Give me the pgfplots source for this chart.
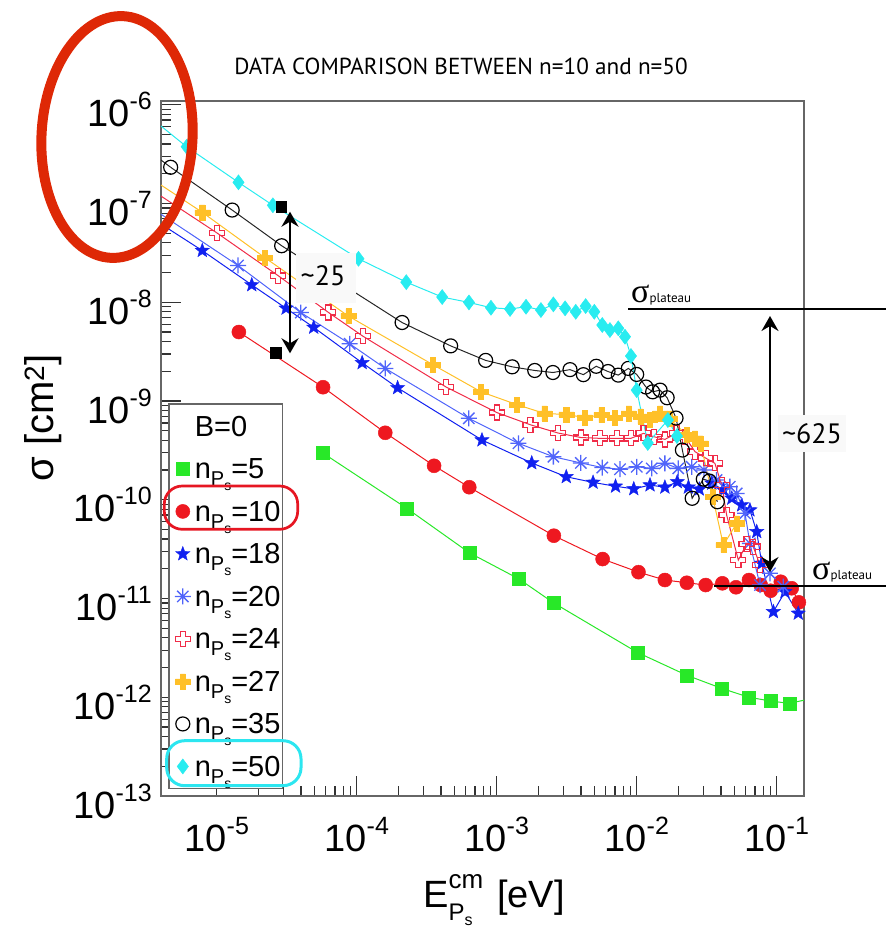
\documentclass[border=0pt]{standalone}
\usepackage{fontspec}
\setmainfont{Liberation Sans}
\newfontfamily\titlefont{PT Sans}
\newfontfamily\greekserif{Liberation Serif}
\usepackage{pgfplots}
\pgfplotsset{compat=1.18}
\usetikzlibrary{arrows.meta}

\definecolor{cgreen}{RGB}{40,232,40}
\definecolor{cred}{RGB}{238,24,32}
\definecolor{cblue}{RGB}{16,32,240}
\definecolor{casterisk}{RGB}{80,100,250}
\definecolor{cpink}{RGB}{240,44,72}
\definecolor{cyellow}{RGB}{255,192,40}
\definecolor{ccyan}{RGB}{40,236,240}
\definecolor{ellred}{RGB}{222,40,6}
\definecolor{boxred}{RGB}{230,22,34}
\definecolor{boxcyan}{RGB}{44,230,240}
\definecolor{labelbg}{RGB}{249,249,249}

% filled five-point star
\pgfdeclareplotmark{fstar}{%
  \pgfpathmoveto{\pgfpointpolar{90}{\pgfplotmarksize}}%
  \pgfpathlineto{\pgfpointpolar{126}{0.42\pgfplotmarksize}}%
  \pgfpathlineto{\pgfpointpolar{162}{\pgfplotmarksize}}%
  \pgfpathlineto{\pgfpointpolar{198}{0.42\pgfplotmarksize}}%
  \pgfpathlineto{\pgfpointpolar{234}{\pgfplotmarksize}}%
  \pgfpathlineto{\pgfpointpolar{270}{0.42\pgfplotmarksize}}%
  \pgfpathlineto{\pgfpointpolar{306}{\pgfplotmarksize}}%
  \pgfpathlineto{\pgfpointpolar{342}{0.42\pgfplotmarksize}}%
  \pgfpathlineto{\pgfpointpolar{18}{\pgfplotmarksize}}%
  \pgfpathlineto{\pgfpointpolar{54}{0.42\pgfplotmarksize}}%
  \pgfpathclose\pgfusepathqfillstroke}
% eight-arm asterisk
\pgfdeclareplotmark{ast8}{%
  \pgfpathmoveto{\pgfpoint{0pt}{\pgfplotmarksize}}\pgfpathlineto{\pgfpoint{0pt}{-\pgfplotmarksize}}%
  \pgfpathmoveto{\pgfpoint{\pgfplotmarksize}{0pt}}\pgfpathlineto{\pgfpoint{-\pgfplotmarksize}{0pt}}%
  \pgfpathmoveto{\pgfpointpolar{45}{\pgfplotmarksize}}\pgfpathlineto{\pgfpointpolar{225}{\pgfplotmarksize}}%
  \pgfpathmoveto{\pgfpointpolar{135}{\pgfplotmarksize}}\pgfpathlineto{\pgfpointpolar{315}{\pgfplotmarksize}}%
  \pgfusepathqstroke}
% fat cross
\def\crosspath{%
  \pgfpathmoveto{\pgfpoint{0.34\pgfplotmarksize}{\pgfplotmarksize}}%
  \pgfpathlineto{\pgfpoint{0.34\pgfplotmarksize}{0.34\pgfplotmarksize}}%
  \pgfpathlineto{\pgfpoint{\pgfplotmarksize}{0.34\pgfplotmarksize}}%
  \pgfpathlineto{\pgfpoint{\pgfplotmarksize}{-0.34\pgfplotmarksize}}%
  \pgfpathlineto{\pgfpoint{0.34\pgfplotmarksize}{-0.34\pgfplotmarksize}}%
  \pgfpathlineto{\pgfpoint{0.34\pgfplotmarksize}{-\pgfplotmarksize}}%
  \pgfpathlineto{\pgfpoint{-0.34\pgfplotmarksize}{-\pgfplotmarksize}}%
  \pgfpathlineto{\pgfpoint{-0.34\pgfplotmarksize}{-0.34\pgfplotmarksize}}%
  \pgfpathlineto{\pgfpoint{-\pgfplotmarksize}{-0.34\pgfplotmarksize}}%
  \pgfpathlineto{\pgfpoint{-\pgfplotmarksize}{0.34\pgfplotmarksize}}%
  \pgfpathlineto{\pgfpoint{-0.34\pgfplotmarksize}{0.34\pgfplotmarksize}}%
  \pgfpathlineto{\pgfpoint{-0.34\pgfplotmarksize}{\pgfplotmarksize}}%
  \pgfpathclose}
\pgfdeclareplotmark{crossfill}{\crosspath\pgfusepathqfillstroke}
\pgfdeclareplotmark{crossopen}{\crosspath\pgfusepathqstroke}

\newcommand\tl[1]{10\raisebox{0.45em}{\fontsize{25}{25}\selectfont #1}}
\newcommand\lstrut{\rule[-10pt]{0pt}{40.5pt}}
\newcommand\nps[1]{\lstrut n\raisebox{-7pt}{\fontsize{20}{20}\selectfont P\raisebox{-5pt}{\fontsize{14}{14}\selectfont s}}=#1}

\begin{document}
\begin{tikzpicture}[x=1pt,y=1pt]
\useasboundingbox (0,0) rectangle (886,-947);

\begin{axis}[
  at={(161pt,-796pt)}, anchor=south west,
  scale only axis, width=643pt, height=695.3pt,
  xmode=log, ymode=log,
  xmin=4e-6, xmax=0.1567, ymin=1e-13, ymax=1.1e-6,
  xtickten={-5,-4,-3,-2,-1},
  ytickten={-13,-12,-11,-10,-9,-8,-7,-6},
  xticklabels={\tl{-5},\tl{-4},\tl{-3},\tl{-2},\tl{-1}},
  yticklabels={\tl{-13},\tl{-12},\tl{-11},\tl{-10},\tl{-9},\tl{-8},\tl{-7},\tl{-6}},
  ticklabel style={font=\fontsize{38}{38}\selectfont},
  yticklabel style={anchor=east, inner sep=0pt, xshift=-9pt, yshift=-5pt},
  xticklabel style={anchor=north, inner sep=0pt, yshift=-21pt},
  tick pos=left, tick align=inside,
  major tick length=20pt, minor tick length=10pt,
  tick style={black!80, line width=1.2pt},
  axis line style={black!60, line width=2pt},
  legend style={at={(0.011,0.565)}, anchor=north west, draw=black!60, line width=1.5pt,
    fill=white, inner xsep=2pt, inner ysep=2pt, row sep=2pt,
    font=\fontsize{29}{29}\selectfont,
    nodes={inner sep=0pt, text depth=10pt}, cells={anchor=base west}},
  legend image code/.code={\draw[#1, only marks] plot coordinates {(12pt,10pt)}; \path[draw=none, fill=none] (0pt,10pt) (24pt,10pt);},
]
\addlegendimage{empty legend}
\addlegendentry{\lstrut B=0}

% n = 5
\addplot[cgreen, line width=1pt, forget plot] coordinates {(0.123,8.68e-13) (0.16,9.4e-13)};
\addplot[cgreen, line width=1pt, mark=square*, mark size=6.5pt, mark options={fill=cgreen, draw=cgreen, line width=0.5pt}] coordinates {
 (5.68e-5,3.0e-10) (2.28e-4,8.19e-11) (6.37e-4,2.91e-11) (1.44e-3,1.58e-11) (2.54e-3,9.07e-12)
 (1.01e-2,2.85e-12) (2.28e-2,1.67e-12) (4.05e-2,1.23e-12) (6.34e-2,1.0e-12) (9.06e-2,9.16e-13) (0.123,8.68e-13)};
\addlegendentry{\nps{5}}

% n = 10
\addplot[cred, line width=1pt, mark=*, mark size=7pt, mark options={fill=cred, draw=cred, line width=0.5pt}] coordinates {
 (1.44e-5,5.0e-9) (5.75e-5,1.38e-9) (1.6e-4,4.77e-10) (3.57e-4,2.21e-10) (6.37e-4,1.34e-10)
 (2.56e-3,4.33e-11) (5.71e-3,2.51e-11) (1.03e-2,1.85e-11) (1.59e-2,1.54e-11) (2.28e-2,1.445e-11)
 (3.11e-2,1.37e-11) (4.09e-2,1.426e-11) (5.12e-2,1.3e-11) (6.34e-2,1.54e-11) (7.69e-2,1.37e-11)
 (9.06e-2,1.2e-11) (0.107,1.48e-11) (0.128,1.27e-11) (0.144,9.15e-12)};
\addlegendentry{\nps{10}}

% n = 18
\addplot[cblue, line width=1pt, forget plot] coordinates {(4e-6,6.2e-8) (7.89e-6,3.34e-8)};
\addplot[cblue, line width=1pt, mark=fstar, mark size=7.5pt, mark options={fill=cblue, draw=cblue, line width=0.4pt}] coordinates {
 (7.89e-6,3.34e-8) (1.78e-5,1.5e-8) (3.13e-5,8.69e-9) (4.93e-5,5.57e-9) (1.094e-4,2.44e-9)
 (1.96e-4,1.36e-9) (7.85e-4,4.03e-10) (1.78e-3,2.36e-10) (3.14e-3,1.71e-10) (4.88e-3,1.5e-10)
 (7.06e-3,1.37e-10) (9.53e-3,1.29e-10) (1.245e-2,1.41e-10) (1.59e-2,1.34e-10) (1.95e-2,1.52e-10)
 (2.34e-2,1.34e-10) (2.8e-2,1.28e-10) (3.44e-2,1.47e-10) (4.16e-2,1.26e-10) (4.78e-2,1.035e-10)
 (5.62e-2,8.85e-11) (6.44e-2,7.87e-11) (7.2e-2,4.75e-11) (7.82e-2,2.27e-11) (9.47e-2,7.35e-12)
 (0.1146,1.17e-11) (0.1426,7.08e-12)};
\addlegendentry{\nps{18}}

% n = 20
\addplot[casterisk, line width=1pt, forget plot] coordinates {(4e-6,7.8e-8) (1.42e-5,2.36e-8)};
\addplot[casterisk, line width=1pt, mark=ast8, mark size=8pt, mark options={draw=casterisk, line width=1.3pt}] coordinates {
 (1.42e-5,2.36e-8) (3.99e-5,7.87e-9) (8.91e-5,3.8e-9) (1.6e-4,2.14e-9) (6.32e-4,6.68e-10)
 (1.43e-3,3.73e-10) (2.54e-3,2.73e-10) (3.99e-3,2.36e-10) (5.68e-3,2.12e-10) (7.6e-3,2.04e-10)
 (1.0e-2,2.16e-10) (1.28e-2,2.08e-10) (1.59e-2,2.34e-10) (1.98e-2,2.08e-10) (2.47e-2,2.16e-10)
 (3.03e-2,2.0e-10) (3.72e-2,1.585e-10) (4.63e-2,1.357e-10) (5.18e-2,1.16e-10) (5.94e-2,7.29e-11)
 (6.44e-2,3.62e-11) (7.6e-2,1.37e-11) (8.95e-2,1.8e-11) (0.1114,1.32e-11)};
\addlegendentry{\nps{20}}

% n = 24
\addplot[cpink, line width=1pt, forget plot] coordinates {(4e-6,1.19e-7) (1e-5,5.06e-8)};
\addplot[cpink, line width=1pt, mark=crossopen, mark size=7.5pt, mark options={draw=cpink, line width=1.3pt}] coordinates {
 (1e-5,5.06e-8) (2.75e-5,1.86e-8) (6.27e-5,7.91e-9) (1.104e-4,4.55e-9) (4.35e-4,1.387e-9)
 (1e-3,7.65e-10) (1.74e-3,5.75e-10) (2.75e-3,4.74e-10) (4.0e-3,4.27e-10) (5.47e-3,4.19e-10)
 (7.2e-3,4.19e-10) (9.08e-3,4.19e-10) (1.12e-2,4.71e-10) (1.33e-2,4.35e-10) (1.59e-2,4.09e-10)
 (1.93e-2,4.71e-10) (2.21e-2,4.35e-10) (2.61e-2,3.07e-10) (3.13e-2,2.63e-10) (3.62e-2,2.34e-10)
 (4.05e-2,1.41e-10) (4.39e-2,7.01e-11) (5.32e-2,2.45e-11) (6.1e-2,3.56e-11) (6.8e-2,3.35e-11)
 (7.6e-2,2.18e-11)};
\addlegendentry{\nps{24}}

% n = 27
\addplot[cyellow, line width=1pt, forget plot] coordinates {(4e-6,1.54e-7) (7.89e-6,8.15e-8)};
\addplot[cyellow, line width=1pt, mark=crossfill, mark size=7.5pt, mark options={fill=cyellow, draw=cyellow, line width=0.5pt}] coordinates {
 (7.89e-6,8.15e-8) (2.21e-5,2.83e-8) (8.71e-5,7.26e-9) (3.49e-4,2.34e-9) (7.73e-4,1.24e-9)
 (1.4e-3,9.18e-10) (2.19e-3,7.5e-10) (3.14e-3,7.3e-10) (4.26e-3,6.81e-10) (5.59e-3,7.22e-10)
 (7.0e-3,6.78e-10) (8.77e-3,7.5e-10) (1.064e-2,7.0e-10) (1.245e-2,6.42e-10) (1.47e-2,7.5e-10)
 (1.71e-2,6.68e-10) (2.28e-2,4.53e-10) (2.61e-2,4.19e-10) (2.86e-2,3.73e-10) (3.49e-2,1.074e-10)
 (4.16e-2,3.48e-11) (5.18e-2,5.78e-11)};
\addlegendentry{\nps{27}}

% n = 35
\addplot[black!85, line width=1pt, forget plot] coordinates {(4e-6,2.76e-7) (4.69e-6,2.33e-7)};
\addplot[black!85, line width=1pt, mark=o, mark size=7pt, mark options={draw=black, line width=1.2pt}] coordinates {
 (4.69e-6,2.33e-7) (1.29e-5,8.59e-8) (2.91e-5,3.74e-8) (2.11e-4,6.24e-9) (4.69e-4,3.62e-9)
 (8.34e-4,2.58e-9) (1.29e-3,2.22e-9) (1.87e-3,2.04e-9) (2.52e-3,1.945e-9) (3.34e-3,2.08e-9)
 (4.16e-3,1.85e-9) (5.14e-3,2.25e-9) (6.24e-3,1.99e-9) (7.39e-3,1.83e-9) (8.71e-3,2.14e-9)
 (1.0e-2,1.86e-9) (1.165e-2,1.387e-9) (1.3e-2,1.24e-9) (1.47e-2,1.29e-9) (1.65e-2,1.08e-9)
 (1.91e-2,6.73e-10) (2.12e-2,3.19e-10) (2.49e-2,1.035e-10) (2.99e-2,1.62e-10) (3.3e-2,1.55e-10)
 (3.77e-2,9.55e-11)};
\addlegendentry{\nps{35}}

% n = 50
\addplot[ccyan, line width=1pt, forget plot] coordinates {(4e-6,6.1e-7) (6.1e-6,3.76e-7)};
\addplot[ccyan, line width=1pt, mark=diamond*, mark size=7.5pt, mark options={fill=ccyan, draw=ccyan, line width=0.5pt}] coordinates {
 (6.1e-6,3.76e-7) (1.43e-5,1.64e-7) (2.52e-5,9.6e-8) (1.03e-4,2.76e-8) (2.26e-4,1.6e-8)
 (4.08e-4,1.13e-8) (6.34e-4,9.97e-9) (9.1e-4,8.81e-9) (1.245e-3,8.55e-9) (1.62e-3,9.02e-9)
 (2.07e-3,8.35e-9) (2.54e-3,9.53e-9) (3.08e-3,8.69e-9) (3.67e-3,8.02e-9) (4.32e-3,9.16e-9)
 (4.98e-3,8.02e-9) (5.68e-3,5.89e-9) (6.44e-3,5.24e-9) (7.39e-3,5.45e-9) (8.25e-3,4.48e-9)
 (9.1e-3,2.86e-9) (1.0e-2,1.29e-9) (1.2e-2,3.76e-10) (1.67e-2,6.42e-10) (1.94e-2,4.42e-10)};
\addlegendentry{\nps{50}}
\end{axis}

% title and axis labels
\node[anchor=base, inner sep=0pt] at (461,-75) {\titlefont\fontsize{23.2}{23.2}\selectfont DATA COMPARISON BETWEEN n=10 and n=50};
\node[rotate=90, inner sep=0pt] at (43,-418) {\fontsize{40}{40}\selectfont σ [cm\textsuperscript{2}]};
\node[anchor=base, inner sep=0pt] at (494,-907) {\fontsize{38}{38}\selectfont E\rlap{\raisebox{19pt}{\fontsize{26}{26}\selectfont cm}}\makebox[38pt][l]{\raisebox{-13pt}{\fontsize{24}{24}\selectfont P\raisebox{-5pt}{\fontsize{16}{16}\selectfont s}}} [eV]};

% highlight around the top tick labels
\draw[ellred, line width=10pt, rotate around={-3:(117,-137)}] (117,-137) ellipse [x radius=75.5, y radius=121];

% ~25 annotation
\fill[labelbg] (296,-253) rectangle (356,-303);
\node[anchor=base, inner sep=0pt] at (323,-285) {\titlefont\fontsize{28}{28}\selectfont\textasciitilde 25};
\draw[line width=2pt, {Stealth[length=15pt,width=17pt,inset=5pt]}-{Stealth[length=15pt,width=17pt,inset=5pt]}] (290,-211.7) -- (290,-353.3);
\fill (275.5,-201.2) rectangle (287,-212.7);
\fill (270,-347) rectangle (281.7,-359.3);

% plateau lines and ~625 annotation
\draw[line width=2pt] (628,-309.3) -- (886,-309.3);
\node[anchor=base west, inner sep=0pt] at (631,-302) {{\greekserif\fontsize{34}{34}\selectfont σ}{\titlefont\fontsize{13}{13}\selectfont plateau}};
\draw[line width=2pt] (714,-585.7) -- (886,-585.7);
\node[anchor=base west, inner sep=0pt] at (812,-579) {{\greekserif\fontsize{34}{34}\selectfont σ}{\titlefont\fontsize{13}{13}\selectfont plateau}};
\draw[line width=2pt, {Stealth[length=15pt,width=17pt,inset=5pt]}-{Stealth[length=15pt,width=17pt,inset=5pt]}] (770,-316) -- (770,-572);
\fill[labelbg] (778,-415) rectangle (846,-452);
\node[anchor=base, inner sep=0pt] at (812,-443.3) {\titlefont\fontsize{28}{28}\selectfont\textasciitilde 625};

% legend highlights
\draw[boxred, line width=2.7pt, rounded corners=18pt] (164.3,-486) rectangle (297.7,-529.3);
\draw[boxcyan, line width=3pt, rounded corners=18pt] (166.7,-740.7) rectangle (301,-785.7);
\end{tikzpicture}
\end{document}
